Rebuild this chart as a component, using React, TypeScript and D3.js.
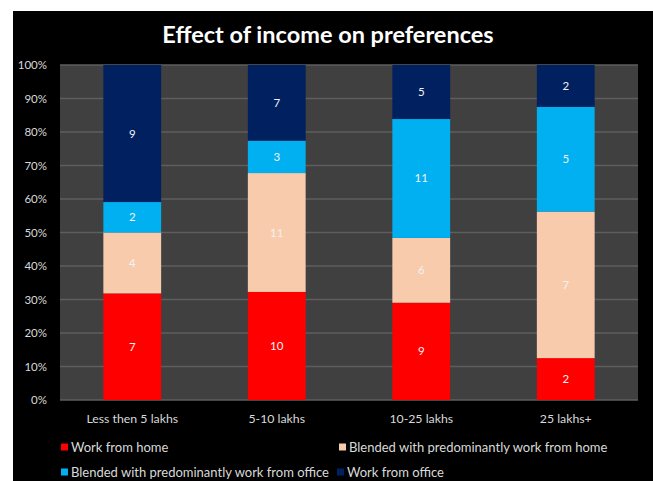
import React from "react";
import * as d3 from "d3";

const categories = ["Less then 5 lakhs", "5-10 lakhs", "10-25 lakhs", "25 lakhs+"];
const seriesNames = [
  "Work from home",
  "Blended with predominantly work from home",
  "Blended with predominantly work from office",
  "Work from office",
];
const workFromHome = [7, 10, 9, 2];
const blendedHome = [4, 11, 6, 7];
const blendedOffice = [2, 3, 11, 5];
const workFromOffice = [9, 7, 5, 2];
const seriesColors = ["#ff0000", "#f8cbad", "#00b0f0", "#002060"];
const yTicks = [0, 0.1, 0.2, 0.3, 0.4, 0.5, 0.6, 0.7, 0.8, 0.9, 1];

const W = 653;
const H = 481;
const plot = { left: 60, right: 638, top: 65, bottom: 400 };
const FONT = "Lato, 'Open Sans', sans-serif";

export default function App() {
  const seriesValues = [workFromHome, blendedHome, blendedOffice, workFromOffice];
  const rows = categories.map((c, i) => {
    const r: Record<string, any> = { category: c };
    seriesNames.forEach((s, k) => (r[s] = seriesValues[k][i]));
    return r;
  });
  const stacked = d3
    .stack<any>()
    .keys(seriesNames)
    .offset(d3.stackOffsetExpand)(rows);

  const x = d3
    .scaleBand<string>()
    .domain(categories)
    .range([plot.left, plot.right])
    .paddingInner(0.6)
    .paddingOuter(0.3);
  const y = d3.scaleLinear().domain([0, 1]).range([plot.bottom, plot.top]);

  const legendItems = [
    { k: 0, x: 61, y: 447 },
    { k: 1, x: 339, y: 447 },
    { k: 2, x: 61, y: 472 },
    { k: 3, x: 337, y: 472 },
  ];

  return (
    <svg
      width={W}
      height={H}
      style={{ position: "absolute", left: 0, top: 0, background: "#ffffff" }}
      fontFamily={FONT}
    >
      <rect x={13} y={11} width={W - 13} height={H - 11} fill="#000000" />
      <text
        x={328}
        y={43}
        textAnchor="middle"
        fill="#ffffff"
        fontSize={23.5}
        fontWeight="bold"
      >
        Effect of income on preferences
      </text>
      <rect
        x={plot.left}
        y={plot.top}
        width={plot.right - plot.left}
        height={plot.bottom - plot.top}
        fill="#404040"
      />
      {yTicks.map((t) => (
        <g key={t}>
          <line
            x1={plot.left}
            x2={plot.right}
            y1={y(t)}
            y2={y(t)}
            stroke="#5e5e5e"
            strokeWidth={1.5}
          />
          <text
            x={47}
            y={y(t)}
            dy="0.35em"
            textAnchor="end"
            fill="#d9d9d9"
            fontSize={11.5}
          >
            {d3.format(".0%")(t)}
          </text>
        </g>
      ))}
      {stacked.map((layer, k) => (
        <g key={layer.key} fill={seriesColors[k]}>
          {layer.map((seg, i) => {
            const cat = categories[i];
            const y0 = y(seg[0]);
            const y1 = y(seg[1]);
            return (
              <g key={cat}>
                <rect
                  x={x(cat)}
                  y={y1}
                  width={x.bandwidth()}
                  height={y0 - y1}
                />
                <text
                  x={(x(cat) as number) + x.bandwidth() / 2}
                  y={(y0 + y1) / 2}
                  dy="0.35em"
                  textAnchor="middle"
                  fill="#f2f2f2"
                  fontSize={11.5}
                >
                  {seriesValues[k][i]}
                </text>
              </g>
            );
          })}
        </g>
      ))}
      {categories.map((c) => (
        <text
          key={c}
          x={(x(c) as number) + x.bandwidth() / 2}
          y={419}
          dy="0.35em"
          textAnchor="middle"
          fill="#d9d9d9"
          fontSize={12.3}
        >
          {c}
        </text>
      ))}
      {legendItems.map(({ k, x: lx, y: ly }) => (
        <g key={k}>
          <rect x={lx} y={ly - 3.5} width={7} height={7} fill={seriesColors[k]} />
          <text x={lx + 10} y={ly} dy="0.35em" fill="#d9d9d9" fontSize={13}>
            {seriesNames[k]}
          </text>
        </g>
      ))}
    </svg>
  );
}
